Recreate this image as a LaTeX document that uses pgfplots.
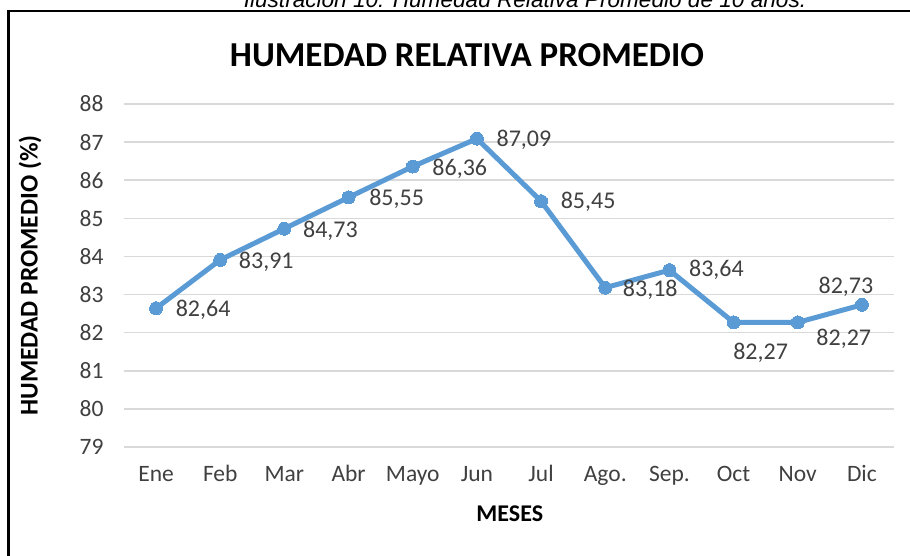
\documentclass[border=0pt]{standalone}
\usepackage{pgfplots}
\pgfplotsset{compat=1.18}
\usepackage{fontspec}
\setmainfont{Carlito}
\newfontfamily\capfont{Liberation Sans}
\definecolor{serie}{RGB}{91,155,213}
\definecolor{gridgray}{RGB}{217,217,217}
\definecolor{txt}{RGB}{64,64,64}
\begin{document}
\begin{tikzpicture}
\clip (0pt,0pt) rectangle (910pt,556pt);
\useasboundingbox (0pt,0pt) rectangle (910pt,556pt);
% caption (partially cut off at top)
\node[anchor=base,font=\fontsize{22.6}{26}\selectfont\capfont\itshape] at (525pt,548.5pt) {Ilustración 10: Humedad Relativa Promedio de 10 años.};
% frame
\draw[line width=2.5pt,black] (8.5pt,-5pt) -- (8.5pt,545pt) -- (915pt,545pt);
% title
\node[font=\fontsize{35}{40}\selectfont\bfseries] at (467pt,501pt) {HUMEDAD RELATIVA PROMEDIO};
\begin{axis}[
  at={(124pt,109pt)}, anchor=south west,
  scale only axis, width=770pt, height=343pt,
  xmin=-0.5, xmax=11.5, ymin=79, ymax=88,
  xtick={0,...,11},
  xticklabels={Ene,Feb,Mar,Abr,Mayo,Jun,Jul,Ago.,Sep.,Oct,Nov,Dic},
  ytick={79,...,88},
  ymajorgrids, grid style={draw=gridgray, line width=1.6pt},
  axis line style={draw=none},
  major tick length=0pt,
  tick label style={font=\fontsize{23.5}{28}\selectfont, text=txt},
  /pgf/number format/assume math mode=true,
  yticklabel style={anchor=east, xshift=-17pt},
  xticklabel style={yshift=-15pt, text height=16pt, text depth=5pt},
  xlabel={\textbf{MESES}},
  ylabel={\textbf{HUMEDAD PROMEDIO (\%)}},
  label style={font=\fontsize{24}{28}\selectfont, text=black},
  xlabel style={at={(axis description cs:0.501,-0.195)}, anchor=center},
  ylabel style={at={(axis description cs:-0.1221,0.5)}, anchor=center, font=\fontsize{25.5}{30}\selectfont},
  clip=false,
]
\addplot[serie, line width=5pt, mark=*, mark size=6.5pt, mark options={fill=serie, draw=serie, line width=0pt}]
coordinates {(0,82.64) (1,83.91) (2,84.73) (3,85.55) (4,86.36) (5,87.09) (6,85.45) (7,83.18) (8,83.64) (9,82.27) (10,82.27) (11,82.73)};
\begin{scope}[every node/.style={font=\fontsize{24}{28}\selectfont, text=txt}]
\node at ([shift={(47pt,-2pt)}]axis cs:0,82.64) {82,64};
\node at ([shift={(46pt,-2pt)}]axis cs:1,83.91) {83,91};
\node at ([shift={(46pt,-2pt)}]axis cs:2,84.73) {84,73};
\node at ([shift={(48pt,-1pt)}]axis cs:3,85.55) {85,55};
\node at ([shift={(47pt,-2pt)}]axis cs:4,86.36) {86,36};
\node at ([shift={(47pt,-1pt)}]axis cs:5,87.09) {87,09};
\node at ([shift={(47pt,-1pt)}]axis cs:6,85.45) {85,45};
\node at ([shift={(45pt,-2pt)}]axis cs:7,83.18) {83,18};
\node at ([shift={(47pt,0pt)}]axis cs:8,83.64) {83,64};
\node at ([shift={(27pt,-30pt)}]axis cs:9,82.27) {82,27};
\node at ([shift={(46pt,-16pt)}]axis cs:10,82.27) {82,27};
\node at ([shift={(-16pt,18pt)}]axis cs:11,82.73) {82,73};
\end{scope}
\end{axis}
\end{tikzpicture}
\end{document}
